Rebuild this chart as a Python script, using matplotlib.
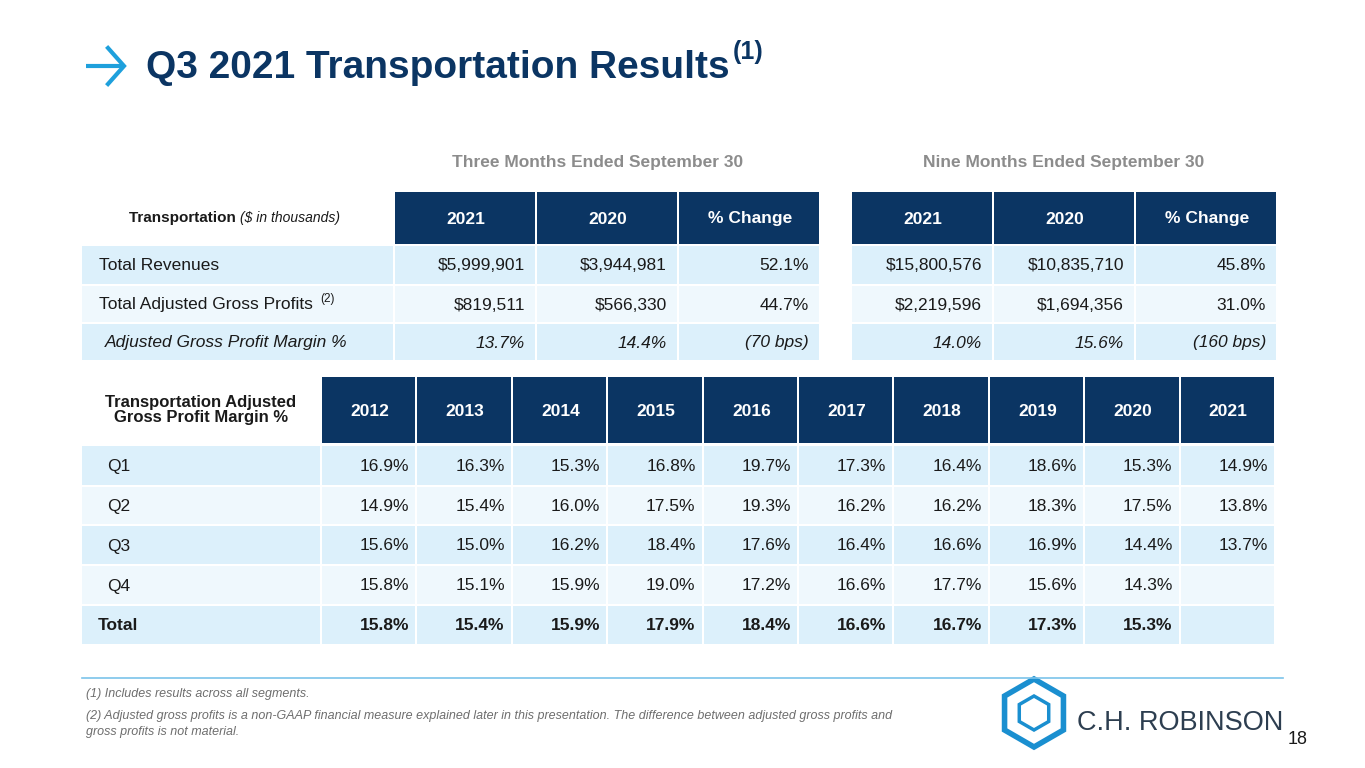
import numpy as np
import matplotlib.pyplot as plt
from matplotlib.patches import Rectangle, RegularPolygon

plt.rcParams['font.family'] = ['Liberation Sans', 'DejaVu Sans']

NAVY = '#0b3563'
ROW_DARK = '#dcf0fb'
ROW_LIGHT = '#eff8fd'
CYAN = '#1ea0dc'
GREY = '#8c8c8c'
TXT = '#1a1a1a'

# top table
top_cols = ['2021', '2020', '% Change']
top_rows = ['Total Revenues', 'Total Adjusted Gross Profits', 'Adjusted Gross Profit Margin %']
three_months = [['$5,999,901', '$3,944,981', '52.1%'],
                ['$819,511', '$566,330', '44.7%'],
                ['13.7%', '14.4%', '(70 bps)']]
nine_months = [['$15,800,576', '$10,835,710', '45.8%'],
               ['$2,219,596', '$1,694,356', '31.0%'],
               ['14.0%', '15.6%', '(160 bps)']]

# bottom table
years = ['2012', '2013', '2014', '2015', '2016', '2017', '2018', '2019', '2020', '2021']
quarters = ['Q1', 'Q2', 'Q3', 'Q4', 'Total']
margins = [
    ['16.9%', '16.3%', '15.3%', '16.8%', '19.7%', '17.3%', '16.4%', '18.6%', '15.3%', '14.9%'],
    ['14.9%', '15.4%', '16.0%', '17.5%', '19.3%', '16.2%', '16.2%', '18.3%', '17.5%', '13.8%'],
    ['15.6%', '15.0%', '16.2%', '18.4%', '17.6%', '16.4%', '16.6%', '16.9%', '14.4%', '13.7%'],
    ['15.8%', '15.1%', '15.9%', '19.0%', '17.2%', '16.6%', '17.7%', '15.6%', '14.3%', ''],
    ['15.8%', '15.4%', '15.9%', '17.9%', '18.4%', '16.6%', '16.7%', '17.3%', '15.3%', ''],
]

fig = plt.figure(figsize=(13.65, 7.68), dpi=100)
ax = fig.add_axes([0, 0, 1, 1])
ax.set_xlim(0, 1365)
ax.set_ylim(768, 0)
ax.axis('off')

def rect(x0, y0, x1, y1, c):
    ax.add_patch(Rectangle((x0, y0), x1 - x0, y1 - y0, color=c, lw=0))

# title
ax.plot([86, 124], [66, 66], color=CYAN, lw=3, solid_capstyle='butt')
ax.plot([108, 124, 108], [48, 66, 84], color=CYAN, lw=3, solid_joinstyle='miter')
ax.text(146, 68, 'Q3 2021 Transportation Results', fontsize=28,
        fontweight='bold', color=NAVY, va='center')
ax.text(733, 52, '(1)', fontsize=18, fontweight='bold', color=NAVY, va='center')

# top table
ax.text(598, 162, 'Three Months Ended September 30', fontsize=12.5, fontweight='bold', color=GREY, ha='center', va='center')
ax.text(1064, 162, 'Nine Months Ended September 30', fontsize=12.5, fontweight='bold', color=GREY, ha='center', va='center')
ax.text(240, 218, 'Transportation ', fontsize=11, fontweight='bold', color=TXT, ha='right', va='center')
ax.text(240, 218, '($ in thousands)', fontsize=10, style='italic', color=TXT, ha='left', va='center')
groups = [(395, three_months), (852, nine_months)]
cw = 142
row_y = [(246, 284), (286, 322), (324, 360)]
row_c = [ROW_DARK, ROW_LIGHT, ROW_DARK]
for i, (y0, y1) in enumerate(row_y):
    rect(82, y0, 393, y1, row_c[i])
for gx, data in groups:
    for j, c in enumerate(top_cols):
        x0 = gx + j * cw
        rect(x0, 192, x0 + cw - 2, 244, NAVY)
        ax.text(x0 + cw / 2, 219, c, fontsize=12.5, fontweight='bold', color='white', ha='center', va='center')
        for i, (y0, y1) in enumerate(row_y):
            rect(x0, y0, x0 + cw - 2, y1, row_c[i])
            ax.text(x0 + cw - 12, (y0 + y1) / 2 + 1, data[i][j], fontsize=12.5, color=TXT, ha='right', va='center',
                    style='italic' if i == 2 else 'normal')
ax.text(99, 266, top_rows[0], fontsize=12.5, color=TXT, va='center')
ax.text(99, 305, top_rows[1], fontsize=12.5, color=TXT, va='center')
ax.text(320, 299, '(2)', fontsize=8.5, color=TXT, va='center')
ax.text(105, 343, top_rows[2], fontsize=12.5, color=TXT, va='center', style='italic')

# bottom table
ax.text(201, 410, 'Transportation Adjusted\nGross Profit Margin %', fontsize=12, fontweight='bold', color=TXT,
        ha='center', va='center', linespacing=1.0)
bx, bw = 322, 95.4
brow_y = [(446, 485), (487, 524), (526, 564), (566, 604), (606, 644)]
brow_c = [ROW_DARK, ROW_LIGHT, ROW_DARK, ROW_LIGHT, ROW_DARK]
for i, q in enumerate(quarters):
    y0, y1 = brow_y[i]
    rect(82, y0, 320, y1, brow_c[i])
    bold = 'bold' if q == 'Total' else 'normal'
    ax.text(98 if q == 'Total' else 107, (y0 + y1) / 2 + 1, q, fontsize=12.5, color=TXT, va='center', fontweight=bold)
for j, yr in enumerate(years):
    x0 = bx + j * bw
    rect(x0, 377, x0 + bw - 2, 443, NAVY)
    ax.text(x0 + bw / 2, 411, yr, fontsize=12.5, fontweight='bold', color='white', ha='center', va='center')
    for i in range(len(quarters)):
        y0, y1 = brow_y[i]
        rect(x0, y0, x0 + bw - 2, y1, brow_c[i])
        ax.text(x0 + bw - 8, (y0 + y1) / 2 + 1, margins[i][j], fontsize=12.5, color=TXT, ha='right', va='center',
                fontweight='bold' if i == 4 else 'normal')

# footnotes
ax.plot([82, 1283], [678, 678], color='#7cc3ea', lw=1.2)
fn = dict(fontsize=9, style='italic', color='#6e6e6e', va='center')
ax.text(86, 694, '(1) Includes results across all segments.', **fn)
ax.text(86, 716, '(2) Adjusted gross profits is a non-GAAP financial measure explained later in this presentation. '
        'The difference between adjusted gross profits and', **fn)
ax.text(86, 732, 'gross profits is not material.', **fn)

# logo
ax.add_patch(RegularPolygon((1034, 713), 6, radius=34, fill=False, ec='#1a8fd0', lw=4))
ax.add_patch(RegularPolygon((1034, 713), 6, radius=17, fill=False, ec='#1a8fd0', lw=2.5))
ax.text(1283, 723, 'C.H. ROBINSON', fontsize=19.5, color='#2d3e50', ha='right', va='center')
ax.text(1298, 740, '18', fontsize=13, color=TXT, ha='center', va='center')

fig.savefig('out.png', dpi=100)
